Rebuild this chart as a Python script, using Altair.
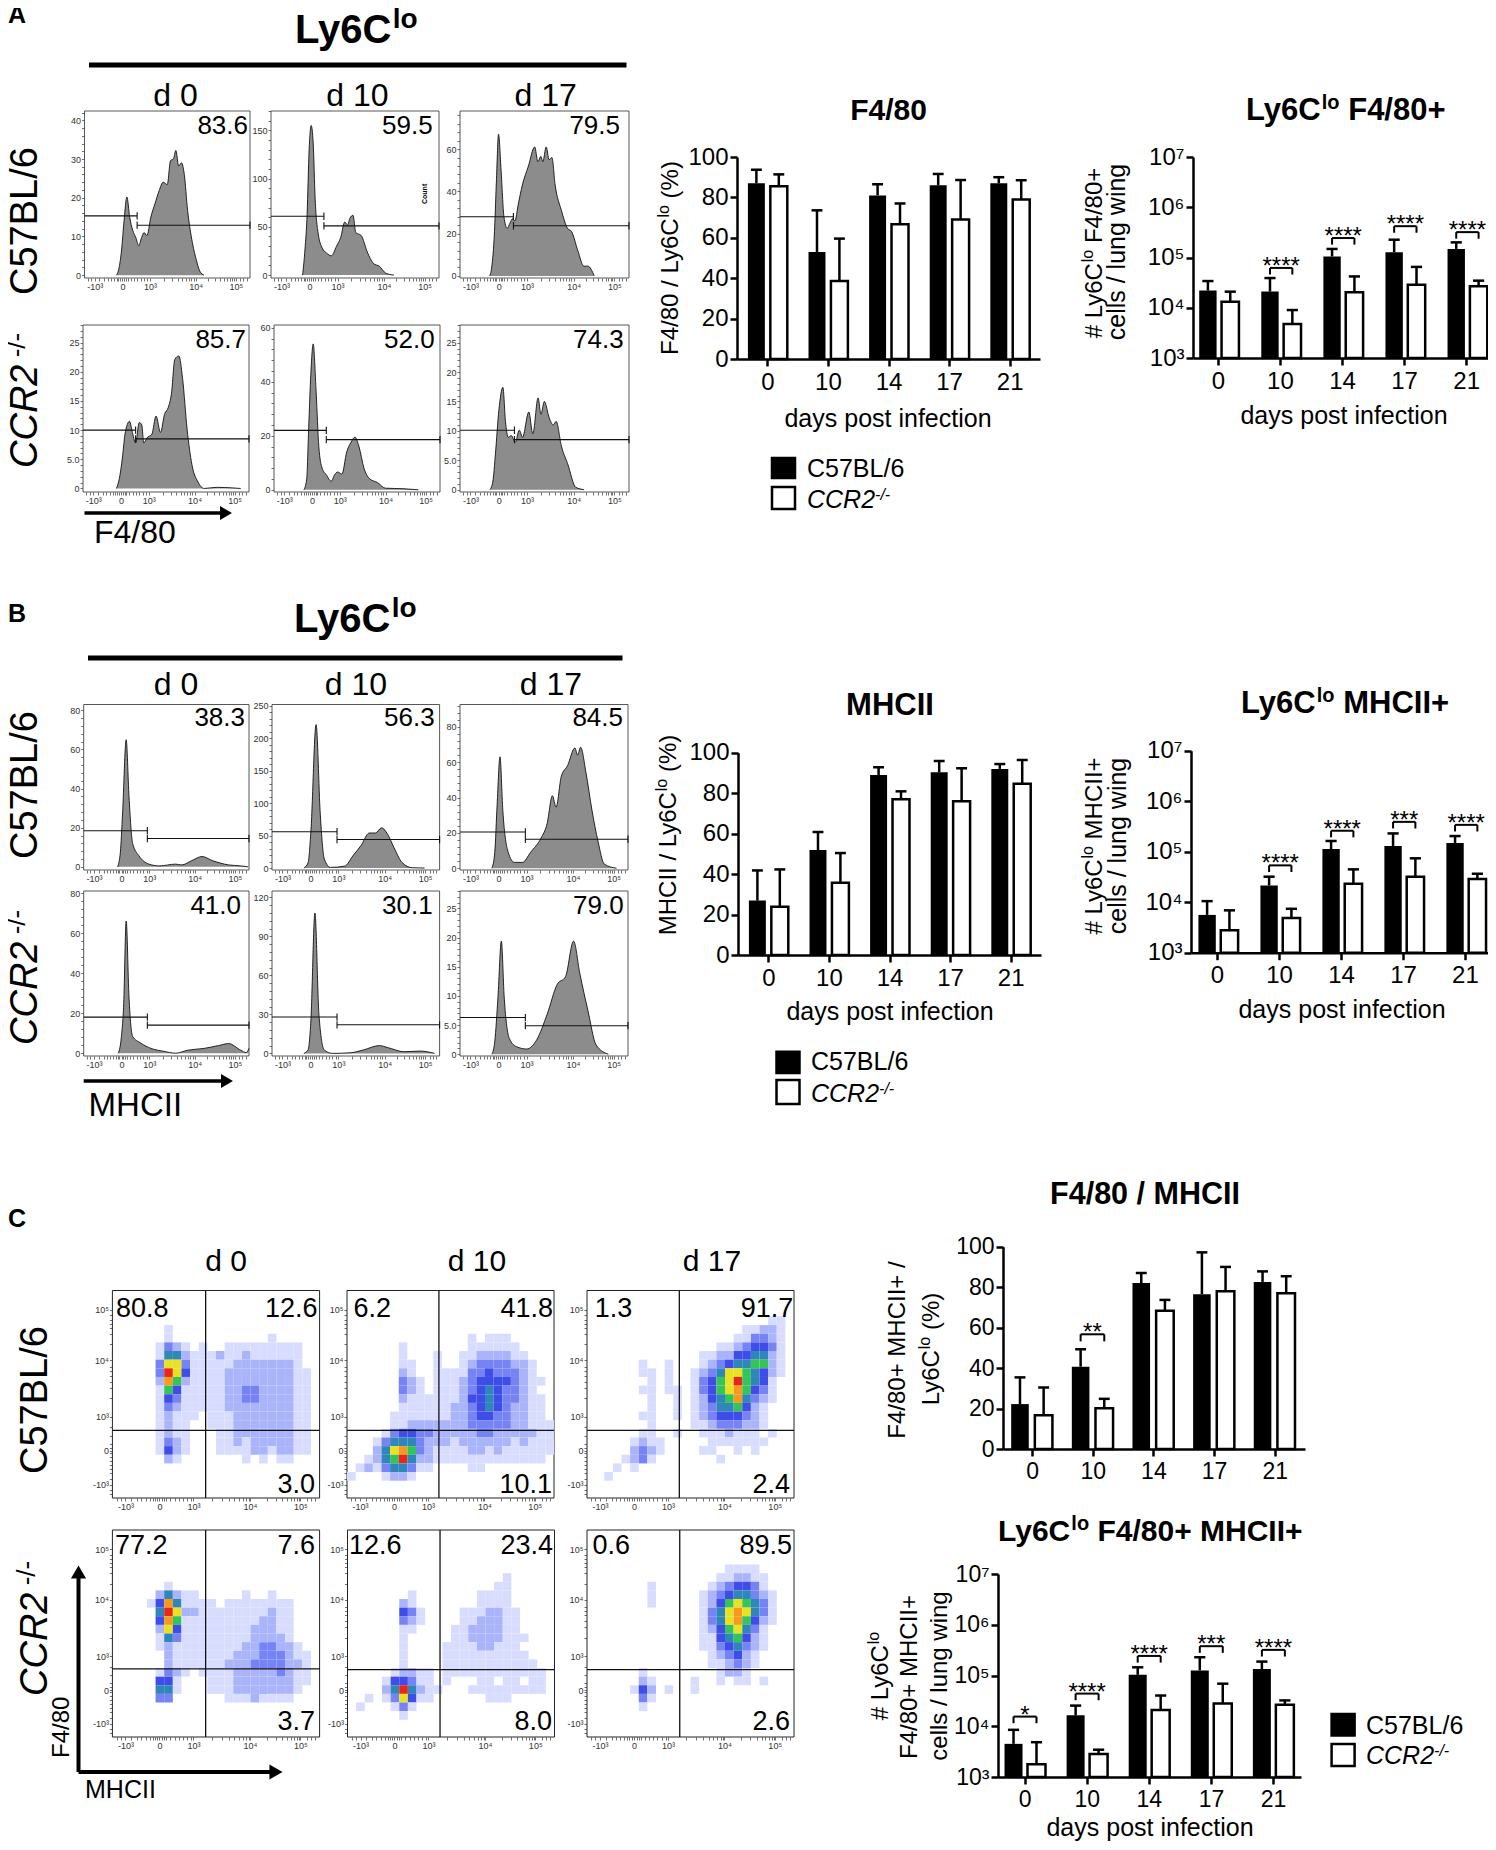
import altair as alt
import pandas as pd

WIDTH, HEIGHT = 1480, 1834
FONT = "Liberation Sans"

# ---------- bar chart values ----------
DAYS = ["0", "10", "14", "17", "21"]
A1_B = [87, 53, 81, 86, 87]
A1_BE = [93.7, 73.6, 86.5, 91.6, 90]
A1_W = [85.5, 38.6, 66.7, 69, 79]
A1_WE = [91.4, 59.6, 77, 88.6, 88.5]
A2_B = [2.2e4, 2.1e4, 1.05e5, 1.27e5, 1.48e5]
A2_BE = [3.4e4, 3.9e4, 1.48e5, 2.26e5, 2.0e5]
A2_W = [1.32e4, 4.75e3, 2.03e4, 2.88e4, 2.67e4]
A2_WE = [2.09e4, 9e3, 4.2e4, 6.5e4, 3.46e4]
A2_SIG = [(1, 6.2e4, "****"), (2, 2.44e5, "****"), (3, 4.2e5, "****"), (4, 3.2e5, "****")]
B1_B = [26.9, 51.9, 89, 90.3, 92]
B1_BE = [41.8, 60.8, 92.8, 95.9, 94.4]
B1_W = [23.9, 35.7, 77, 76, 84.7]
B1_WE = [42.3, 50.4, 80.9, 92.3, 96.4]
B2_B = [5.6e3, 2.15e4, 1.13e5, 1.3e5, 1.49e5]
B2_BE = [1.05e4, 3.2e4, 1.63e5, 2.3e5, 2.04e5]
B2_W = [2.77e3, 4.86e3, 2.32e4, 3.2e4, 2.88e4]
B2_WE = [6.9e3, 7.4e3, 4.47e4, 7.4e4, 3.66e4]
B2_SIG = [(1, 5.36e4, "****"), (2, 2.6e5, "****"), (3, 3.9e5, "***"), (4, 3.4e5, "****")]
C1_B = [22.2, 40.7, 82, 76.5, 82.6]
C1_BE = [35.4, 49.3, 87, 97.2, 87.8]
C1_W = [16.7, 20.2, 68.3, 78, 77]
C1_WE = [30.4, 24.8, 73.7, 90, 85.4]
C1_SIG = [(1, 56.7, "**")]
C2_B = [4.5e3, 1.64e4, 1.03e5, 1.26e5, 1.34e5]
C2_BE = [8.5e3, 2.55e4, 1.45e5, 2.29e5, 1.88e5]
C2_W = [1.78e3, 2.83e3, 2.08e4, 2.81e4, 2.65e4]
C2_WE = [4.85e3, 3.45e3, 4.03e4, 6.9e4, 3.23e4]
C2_SIG = [(0, 1.55e4, "*"), (1, 4.4e4, "****"), (2, 2.43e5, "****"), (3, 3.78e5, "***"), (4, 3.2e5, "****")]

# ---------- histogram curves: channel (0-100 of the display axis), count ----------
AH11_X = [19.2, 20.4, 22.4, 23.9, 25.6, 27.3, 29.1, 31, 32.8, 34.5, 36, 37.7, 40.1, 42.6, 45.1, 47.5, 50, 52, 53.7, 55.2, 56.9, 58.6, 60.3, 62.3, 64.8, 67.7, 69.7, 72.2]
AH11_Y = [0, 1, 6.5, 14, 20.2, 15, 11.6, 9.7, 7.6, 9.7, 11, 10.2, 15, 18.5, 21.8, 24, 23.4, 29.6, 30, 32.2, 28.2, 29, 26, 16.7, 9.3, 3.7, 1, 0]
AH12_X = [18.8, 20.2, 21.5, 22.7, 23.9, 25.1, 26.3, 28, 30.5, 33, 35.9, 39, 41.5, 43.9, 45.6, 47, 48.8, 50.5, 53.7, 57.3, 61, 64.6, 68.3, 73.2]
AH12_Y = [0, 26, 63, 130, 155, 137, 78, 44, 28, 23, 20, 30, 39, 55, 52, 59, 62, 44, 41, 24, 12, 9, 2, 0]
AH13_X = [17.5, 18.7, 20.4, 21.6, 22.8, 24.3, 26, 27.9, 29.6, 31, 32.5, 34.5, 36.9, 40.5, 44.2, 46.1, 47.8, 49, 51, 52.7, 54.4, 56.3, 60, 63.6, 66, 69.7, 73.3, 75.7, 79.4]
AH13_Y = [0, 3.7, 21, 46, 67, 50, 28, 22.5, 25, 27, 26, 34, 43, 52, 61, 54, 56.5, 54, 61, 55, 56, 43, 31, 22.5, 21, 12, 4.6, 4.6, 0]
AH21_X = [20.1, 21.9, 23.8, 25.3, 28, 30, 31.7, 33.9, 35.4, 36.6, 38.6, 41.5, 44, 46.7, 49.1, 51.4, 53.3, 55.3, 57.7, 60, 62.7, 65.6, 69.3, 73, 80.3, 90.2, 95]
AH21_Y = [0, 1.7, 5.4, 9.3, 11.5, 9.3, 7.8, 11.3, 10.9, 7.8, 8.7, 9.3, 12.4, 9.6, 12.7, 13.9, 16.3, 22.1, 22.7, 18.8, 10.2, 4.1, 1.1, 0, 0.2, 0.1, 0]
AH22_X = [18, 19.7, 20.9, 22.2, 23.6, 25.4, 27, 29, 31.5, 34.5, 36.5, 38.4, 40.9, 43.8, 46.3, 48.8, 51.2, 54.2, 57.4, 62.3, 67.2, 78.3, 87]
AH22_Y = [0, 4, 23, 43, 54, 36, 16, 8, 5.6, 3.2, 5.6, 6.6, 5.8, 14, 17.5, 19.5, 16, 8, 4.2, 2.7, 0.6, 0.4, 0]
AH23_X = [17.7, 19.4, 21, 23, 25.4, 26.9, 28.6, 30.3, 32.7, 35.1, 37, 40.7, 43.1, 46.2, 47.9, 49.9, 52.8, 55.2, 56.9, 60, 63.7, 68.5, 73.4]
AH23_Y = [0, 1.3, 6.2, 13.5, 17.4, 11.6, 8.9, 9.2, 8.1, 10.1, 8.9, 13.2, 9.5, 15.6, 12.8, 15, 12.2, 11, 11.6, 7.4, 4.4, 0.4, 0]
BH11_X = [20.5, 22.2, 23.5, 25.7, 27.4, 29.6, 33.3, 39.5, 45.7, 55.6, 59.3, 65.4, 71.6, 77.8, 87.7, 95, 99.5]
BH11_Y = [0, 7.6, 27, 65, 36, 12, 5.8, 1.4, 0.5, 1.4, 1, 3.2, 5.3, 3.2, 1, 0.5, 0]
BH12_X = [19, 21.5, 23.2, 26.3, 28.8, 31.2, 34.9, 43.4, 48.3, 53.2, 58, 61.7, 65.4, 69, 72.7, 77.6, 83.7, 91]
BH12_Y = [0, 8, 56, 221, 83, 14, 1, 3, 19, 35, 54, 54, 62, 52, 32, 8.5, 0.5, 0]
BH13_X = [19, 20.7, 22.1, 23.8, 25.5, 28.7, 32.4, 37.2, 42, 48.2, 51.8, 55, 57.2, 60.3, 64, 68.4, 70, 71.8, 75, 78.6, 82.2, 85.9, 93.2]
BH13_Y = [0, 9, 36, 63, 32.5, 9, 3.3, 3.3, 9, 17, 25, 41, 34.5, 52, 58, 68, 64, 68.4, 54, 32.5, 15, 2.3, 0]
BH21_X = [21, 22.7, 24.2, 25.7, 27.4, 29.6, 34.6, 40.7, 48.1, 55.6, 63, 72.8, 81.5, 87.7, 95, 98.3, 100]
BH21_Y = [0, 7.5, 24.7, 66, 28, 8.4, 5, 2.4, 1, 0, 1.5, 2.4, 3.8, 4.8, 1.5, 0.3, 2.4]
BH22_X = [19, 21.5, 23.2, 25.6, 28, 31.2, 36.1, 47, 54.4, 64.1, 69, 78.8, 88.5, 97]
BH22_Y = [0, 2.6, 25, 108, 30, 2.6, 0, 0.5, 2.6, 6, 4.5, 1.3, 1.8, 0]
BH23_X = [19, 20.7, 22.6, 24.6, 26.3, 29.4, 33.6, 39.7, 45.7, 51.8, 57.9, 62.8, 67.6, 71.3, 76.2, 81, 88.3]
BH23_Y = [0, 2.2, 9.8, 19.4, 9.8, 2.7, 1.3, 0.9, 2.5, 6.8, 12, 13.3, 19.4, 13.9, 7.4, 1.6, 0]

HIST_MAJOR = [6.2, 22.9, 39.6, 67.2, 91.4]
DOT_MAJOR = [6.3, 22.7, 39.1, 66.4, 90.7]
MAJOR_LABELS = ["-10³", "0", "10³", "10⁴", "10⁵"]
MINOR = [2, 4, 9, 12, 14, 16, 18, 19.5, 20.5, 21.5, 24, 25, 26, 28, 30, 32, 34, 36, 38, 47.9, 52.8, 56.2, 58.9, 61.1, 62.9,
         64.5, 65.9, 74.5, 78.9, 81.9, 84.3, 86.2, 87.8, 89.2, 90.2, 94, 96, 98]

# ---------- dot plot density cells, 24 x 24, top row first (0 = no events, 9 = densest) ----------
G11 = {4: "000000100000000000000000", 5: "000000100000000000100000", 6: "000001321010011111111100",
       7: "000001552111211211111100", 8: "000003773111112222222100", 9: "000003974111122222222110",
       10: "000002862111122222222110", 11: "000001641111122332222110", 12: "000001431111122332222110",
       13: "000001321111122222222110", 14: "000001211101112222222110", 15: "000001211001112222222110",
       16: "000001211000112222222110", 17: "000001321000112122222110", 18: "000001421000111122122110",
       19: "000000210000000101011000"}
G12 = {5: "000000000000001011100000", 6: "000000100000001111110000", 7: "000000100010011222211000",
       8: "000000110010012333322100", 9: "000000210011113343332100", 10: "000000321011123444432110",
       11: "000000321011123454332100", 12: "000000211111124454332110", 13: "000000111111223454322110",
       14: "000001111111223443322110", 15: "000001122222223333322111", 16: "000013443322222332222211",
       17: "000135553222122222212111", 18: "000257863211112212111111", 19: "001256952211111111111110",
       20: "012135531100001100000000", 21: "100012210000000000000000"}
G13 = {3: "000000000000000000000110", 4: "000000000000000000112210", 5: "000000000000000001133210",
       6: "000000000000000112344310", 7: "000000000000011224455210", 8: "000000100100012345566210",
       9: "000000110100123577654210", 10: "000000010100134679654100", 11: "000000110110134678643100",
       12: "000000010010124568532100", 13: "000000010010123556421000", 14: "000000110010123444321000",
       15: "000000010000112333221000", 16: "000000110010011121110100", 17: "000001211000001111111000",
       18: "000002321000011001010000", 19: "000012310000000100000000", 20: "000101000000000000000000",
       21: "001000000000000000000000"}
G21 = {6: "000000100000000000000000", 7: "000002521100000100100000", 8: "000014851111011111111000",
       9: "000005972211111111211000", 10: "000004861111111112211000", 11: "000002741111111122211000",
       12: "000001531111111122221000", 13: "000001211111111223322100", 14: "000000211111112223332110",
       15: "000000211111122233332210", 16: "000001321011112222232110", 17: "000004410001112222222110",
       18: "000005510001112222222100", 19: "000003300000011121111000"}
G22 = {5: "000000000000000000100000", 6: "000000000000000001100000", 7: "000000010000000111100000",
       8: "000000210000000111100000", 9: "000000431000011122110000", 10: "000000321000011222110000",
       11: "000000110000112222110000", 12: "000000100000112222111000", 13: "000000100001111221110000",
       14: "000000100001111111111000", 15: "000000100001111111111100", 16: "000001221101111111111110",
       17: "000014431101000110110110", 18: "000025952110001111111110", 19: "001013741100000011100000",
       20: "010001310000000000000000", 21: "000000100000000000000000"}
G23 = {4: "000000000000000011110000", 5: "000000000000000112211000", 6: "000000010000001234431000",
       7: "000000010000012345532100", 8: "000000010000012467653100", 9: "000000000000013578753100",
       10: "000000000000013578642100", 11: "000000000000012467531000", 12: "000000000000011456421000",
       13: "000000000000011345321000", 14: "000000000000001234210000", 15: "000000000000001123210000",
       16: "000000100000000122100000", 17: "000000210000100101101000", 18: "000001420100100000000000",
       19: "000000310000000000000000", 20: "000000100000000000000000"}
DENSITY_COLORS = {"1": "#d8ddff", "2": "#aab4fb", "3": "#7683f5", "4": "#3f4de8", "5": "#2f86b8",
                  "6": "#35c45a", "7": "#e8e222", "8": "#f59a1e", "9": "#e8261a"}

# ---------- text helper ----------
REG = dict(zip("ABCFHILMR/ +-()%#acdefgilnopstuwy.",
               [.667, .667, .722, .611, .722, .278, .556, .833, .722, .278, .278, .584, .333, .333, .333, .889, .556,
                .556, .5, .556, .556, .278, .556, .222, .222, .556, .556, .556, .5, .278, .556, .722, .5, .278]))
BOLD = dict(REG, L=.611, l=.278, o=.611, y=.556)


def tw(s, size, bold=False):
    t = BOLD if bold else REG
    return sum(t.get(c, .556) for c in s) * size


TEXTS = []


def T(x, y, text, size, bold=False, italic=False, angle=0, align="left"):
    TEXTS.append(dict(px=x - 8, py=y - 8, text=text, size=size, bold=bold, italic=italic, angle=angle, align=align))


def rich(x, y, segs, angle=0, center=False, bold=False):
    """segs: (text, size, rise[, italic])"""
    total = sum(tw(s[0], s[1], bold) for s in segs)
    pos = -total / 2 if center else 0
    for s in segs:
        text, size, rise = s[:3]
        it = len(s) > 3 and s[3]
        lead = len(text) - len(text.lstrip())
        if angle == 270:
            T(x - rise, y - pos - tw(text[:lead], size, bold), text.strip(), size, bold, it, 270)
        else:
            T(x + pos + tw(text[:lead], size, bold), y - rise, text.strip(), size, bold, it)
        pos += tw(text, size, bold)


# ---------- drawing helpers ----------
PX = alt.X("px:Q", scale=None, axis=None)
PY = alt.Y("py:Q", scale=None, axis=None)


def bar_row(i, v, e, off, bw):
    return dict(x0=i + off - bw / 2, x1=i + off + bw / 2, xc=i + off, v=v, e=e)


def bar_panel(black, black_err, white, white_err, xr, dom, yr, log=False, sig=(), off=(-.18, .19), bw=.28, fs=24, cap=.09):
    xs = alt.Scale(domain=list(dom), range=[xr[0] - 8, xr[1] - 8], nice=False, zero=False)
    if log:
        ys = alt.Scale(type="log", domain=[1e3, 1e7], range=[yr[0] - 8, yr[1] - 8], nice=False)
        base = 1e3
        ylabel = "'10'+['³','⁴','⁵','⁶','⁷'][round(log(datum.value)/LN10)-3]"
        yvals = [1e3, 1e4, 1e5, 1e6, 1e7]
    else:
        ys = alt.Scale(domain=[0, 100], range=[yr[0] - 8, yr[1] - 8], nice=False, zero=False)
        base = 0
        ylabel = "datum.label"
        yvals = [0, 20, 40, 60, 80, 100]
    common = dict(grid=False, title=None, domainColor="black", tickColor="black", domainWidth=2.5, tickWidth=2.5,
                  tickSize=7, labelColor="black", labelFont=FONT, labelFontSize=fs, labelOverlap=False,
                  labelBound=False, labelFlush=False)
    xax = alt.Axis(orient="bottom", offset=yr[0] - 8 - HEIGHT, values=[0, 1, 2, 3, 4], labelPadding=4,
                   labelExpr="['0','10','14','17','21'][datum.value]", **common)
    yax = alt.Axis(orient="left", offset=-(xr[0] - 8), values=yvals, labelPadding=2, labelExpr=ylabel, **common)
    b = pd.DataFrame([bar_row(i, black[i], black_err[i], off[0], bw) for i in range(5)])
    w = pd.DataFrame([bar_row(i, white[i], white_err[i], off[1], bw) for i in range(5)])
    b["base"] = base
    w["base"] = base
    X0 = alt.X("x0:Q", scale=xs, axis=None)
    Xc = alt.X("xc:Q", scale=xs, axis=None)
    layers = []
    all_rows = pd.concat([b, w])
    layers.append(alt.Chart(b).mark_rect(color="black").encode(
        x=alt.X("x0:Q", scale=xs, axis=xax), x2="x1:Q",
        y=alt.Y("v:Q", scale=ys, axis=yax), y2="base:Q"))
    layers.append(alt.Chart(all_rows).mark_rule(color="black", strokeWidth=2.5).encode(
        x=Xc, y=alt.Y("v:Q", scale=ys, axis=None), y2="e:Q"))
    caps = all_rows.assign(c0=all_rows.xc - cap, c1=all_rows.xc + cap)
    layers.append(alt.Chart(caps).mark_rule(color="black", strokeWidth=2.5).encode(
        x=alt.X("c0:Q", scale=xs, axis=None), x2="c1:Q", y=alt.Y("e:Q", scale=ys, axis=None)))
    layers.append(alt.Chart(w).mark_rect(fill="white", stroke="black", strokeWidth=2.5).encode(
        x=X0, x2="x1:Q", y=alt.Y("v:Q", scale=ys, axis=None), y2="base:Q"))
    if sig:
        rows = []
        for i, val, stars in sig:
            low = val * .74 if log else val - 3.5
            rows.append(dict(xa=i + off[0], xb=i + off[1], xm=i + (off[0] + off[1]) / 2, val=val, low=low, stars=stars))
        s = pd.DataFrame(rows)
        layers.append(alt.Chart(s).mark_rule(color="black", strokeWidth=2).encode(
            x=alt.X("xa:Q", scale=xs, axis=None), x2="xb:Q", y=alt.Y("val:Q", scale=ys, axis=None)))
        layers.append(alt.Chart(s).mark_rule(color="black", strokeWidth=2).encode(
            x=alt.X("xa:Q", scale=xs, axis=None), y=alt.Y("val:Q", scale=ys, axis=None), y2="low:Q"))
        layers.append(alt.Chart(s).mark_rule(color="black", strokeWidth=2).encode(
            x=alt.X("xb:Q", scale=xs, axis=None), y=alt.Y("val:Q", scale=ys, axis=None), y2="low:Q"))
        layers.append(alt.Chart(s).mark_text(font=FONT, fontSize=24, color="black", baseline="alphabetic", dy=6).encode(
            x=alt.X("xm:Q", scale=xs, axis=None), y=alt.Y("val:Q", scale=ys, axis=None), text="stars:N"))
    return layers


def flow_axes(xr, yr, majors, yvals, ylabel):
    common = dict(grid=False, title=None, domain=False, tickColor="#333", tickWidth=.7, tickSize=3, labelColor="#333",
                  labelFont=FONT, labelFontSize=9, labelOverlap=False, labelBound=False, labelFlush=False, labelPadding=1)
    expr = "".join(f"datum.value=={m}?'{l}':" for m, l in zip(majors, MAJOR_LABELS)) + "''"
    xax = alt.Axis(orient="bottom", offset=yr[0] - 8 - HEIGHT, values=sorted(majors + MINOR), labelExpr=expr, **common)
    yax = alt.Axis(orient="left", offset=-(xr[0] - 8), values=yvals, labelExpr=ylabel, **common)
    return xax, yax


def hist_panel(xs_, ys_, xr, yr, ydom, step, minor, gate):
    xs = alt.Scale(domain=[0, 100], range=[xr[0] - 8, xr[1] - 8], nice=False, zero=False)
    ys = alt.Scale(domain=list(ydom), range=[yr[0] - 8, yr[1] - 8], nice=False, zero=False)
    vals = list(range(0, int(ydom[1]) + 1, minor))
    lab = f"datum.value%{step}==0?(datum.value==5?'5.0':datum.label):''"
    xax, yax = flow_axes(xr, yr, HIST_MAJOR, vals, lab)
    d = pd.DataFrame(dict(c=xs_, n=ys_, base=[0] * len(xs_)))
    frame = pd.DataFrame([dict(a=0, b=100, lo=ydom[0], hi=ydom[1])])
    g, ly, ry = gate
    dy = (ydom[1] - ydom[0]) * .022
    seg = pd.DataFrame([dict(a=0, b=g, y=ly), dict(a=g, b=100, y=ry)])
    capd = pd.DataFrame([dict(a=g, y0=ly - dy, y1=ly + dy), dict(a=g, y0=ry - dy, y1=ry + dy),
                         dict(a=100, y0=ry - dy, y1=ry + dy)])
    Xn = alt.X("c:Q", scale=xs, axis=None)
    return [
        alt.Chart(frame).mark_rect(fill="white", stroke="#444", strokeWidth=.9).encode(
            x=alt.X("a:Q", scale=xs, axis=xax), x2="b:Q", y=alt.Y("lo:Q", scale=ys, axis=yax), y2="hi:Q"),
        alt.Chart(d).mark_area(color="#8c8c8c", interpolate="monotone").encode(
            x=Xn, y=alt.Y("n:Q", scale=ys, axis=None), y2="base:Q"),
        alt.Chart(d).mark_line(color="#111", strokeWidth=.9, interpolate="monotone").encode(
            x=Xn, y=alt.Y("n:Q", scale=ys, axis=None)),
        alt.Chart(seg).mark_rule(color="#111", strokeWidth=1.1).encode(
            x=alt.X("a:Q", scale=xs, axis=None), x2="b:Q", y=alt.Y("y:Q", scale=ys, axis=None)),
        alt.Chart(capd).mark_rule(color="#111", strokeWidth=1.1).encode(
            x=alt.X("a:Q", scale=xs, axis=None), y=alt.Y("y0:Q", scale=ys, axis=None), y2="y1:Q"),
    ]


def dot_panel(grid, xr, yr, qx, qy):
    xs = alt.Scale(domain=[0, 100], range=[xr[0] - 8, xr[1] - 8], nice=False, zero=False)
    ys = alt.Scale(domain=[0, 100], range=[yr[0] - 8, yr[1] - 8], nice=False, zero=False)
    step = 100 / 24
    rows = []
    for r, s in grid.items():
        for c, ch in enumerate(s):
            if ch != "0":
                rows.append(dict(x0=c * step, x1=(c + 1) * step, y0=100 - (r + 1) * step, y1=100 - r * step,
                                 col=DENSITY_COLORS[ch]))
    cells = pd.DataFrame(rows)
    lab = "".join(f"datum.value=={m}?'{l}':" for m, l in zip(DOT_MAJOR, MAJOR_LABELS)) + "''"
    xax, yax = flow_axes(xr, yr, DOT_MAJOR, sorted(DOT_MAJOR + [2, 4, 9, 12, 14, 16, 18, 20, 21.5, 24, 26, 30, 34, 48, 53, 56, 59, 61, 63, 74, 79, 82, 84, 86, 88]), lab)
    frame = pd.DataFrame([dict(a=0, b=100, lo=0, hi=100)])
    return [
        alt.Chart(frame).mark_rect(fill="white", stroke="#222", strokeWidth=1).encode(
            x=alt.X("a:Q", scale=xs, axis=xax), x2="b:Q", y=alt.Y("lo:Q", scale=ys, axis=yax), y2="hi:Q"),
        alt.Chart(cells).mark_rect(strokeWidth=0).encode(
            x=alt.X("x0:Q", scale=xs, axis=None), x2="x1:Q", y=alt.Y("y0:Q", scale=ys, axis=None), y2="y1:Q",
            color=alt.Color("col:N", scale=None, legend=None)),
        alt.Chart(pd.DataFrame([dict(a=qx, b=0, c=100)])).mark_rule(color="#111", strokeWidth=1.3).encode(
            x=alt.X("a:Q", scale=xs, axis=None), y=alt.Y("b:Q", scale=ys, axis=None), y2="c:Q"),
        alt.Chart(pd.DataFrame([dict(a=qy, b=0, c=100)])).mark_rule(color="#111", strokeWidth=1.3).encode(
            y=alt.Y("a:Q", scale=ys, axis=None), x=alt.X("b:Q", scale=xs, axis=None), x2="c:Q"),
    ]


SHAPES = []


def line(x0, y0, x1, y1, w):
    SHAPES.append(alt.Chart(pd.DataFrame([dict(px=x0 - 8, px2=x1 - 8, py=y0 - 8, py2=y1 - 8)]))
                  .mark_rule(color="black", strokeWidth=w)
                  .encode(x=PX, x2="px2:Q", y=PY, y2="py2:Q"))


def box(x0, y0, x1, y1, fill):
    SHAPES.append(alt.Chart(pd.DataFrame([dict(px=x0 - 8, px2=x1 - 8, py=y0 - 8, py2=y1 - 8)]))
                  .mark_rect(fill=fill, stroke="black", strokeWidth=2.5)
                  .encode(x=PX, x2="px2:Q", y=PY, y2="py2:Q"))


def head(x, y, shape, size=190):
    SHAPES.append(alt.Chart(pd.DataFrame([dict(px=x - 8, py=y - 8)]))
                  .mark_point(shape=shape, filled=True, color="black", size=size, opacity=1)
                  .encode(x=PX, y=PY))


panels = []

# ---------- A histograms ----------
R1, R2 = (278, 111), (492, 325)
panels += hist_panel(AH11_X, AH11_Y, (84.5, 250), R1, (-.74, 42.4), 10, 2, (31.8, 15.3, 12.9))
panels += hist_panel(AH12_X, AH12_Y, (271, 439), R1, (-3, 170), 50, 10, (31.5, 61, 51))
panels += hist_panel(AH13_X, AH13_Y, (460, 629), R1, (-1, 78), 20, 4, (31.6, 28, 23.7))
panels += hist_panel(AH21_X, AH21_Y, (83, 249), R2, (-.6, 28), 5, 1, (31.7, 10, 8.5))
panels += hist_panel(AH22_X, AH22_Y, (274, 440), R2, (-.8, 61), 20, 4, (31.5, 22, 18.6))
panels += hist_panel(AH23_X, AH23_Y, (460, 629), R2, (-.4, 28), 5, 1, (32.2, 10.1, 8.5))
# ---------- B histograms ----------
R3, R4 = (870, 704.5), (1056, 891)
panels += hist_panel(BH11_X, BH11_Y, (83.7, 249), R3, (-1.6, 83), 20, 4, (38.5, 18.5, 14.5))
panels += hist_panel(BH12_X, BH12_Y, (272, 439.6), R3, (-3, 252), 50, 10, (38.8, 56, 44))
panels += hist_panel(BH13_X, BH13_Y, (460, 628), R3, (-1, 92.6), 20, 4, (38.9, 20.5, 16.4))
panels += hist_panel(BH21_X, BH21_Y, (83.7, 249), R4, (-1.4, 81), 20, 4, (38.5, 18, 14))
panels += hist_panel(BH22_X, BH22_Y, (272, 439.6), R4, (-2, 125), 30, 6, (38.8, 28, 22))
panels += hist_panel(BH23_X, BH23_Y, (460, 628), R4, (-.3, 28), 5, 1, (38.9, 6.3, 4.9))
# ---------- C dot plots ----------
R5, R6 = (1498, 1290.5), (1737, 1530)
panels += dot_panel(G11, (112.4, 319.6), R5, 45, 32.6)
panels += dot_panel(G12, (347, 554), R5, 44.4, 32.6)
panels += dot_panel(G13, (587, 794), R5, 44.6, 32.6)
panels += dot_panel(G21, (112.4, 319.6), R6, 45, 32.9)
panels += dot_panel(G22, (347.5, 554.5), R6, 44.7, 32.5)
panels += dot_panel(G23, (587, 794), R6, 44.8, 32.5)
# ---------- bar panels ----------
panels += bar_panel(A1_B, A1_BE, A1_W, A1_WE, (737, 1040), (-.5, 4.5), (359, 157))
panels += bar_panel(A2_B, A2_BE, A2_W, A2_WE, (1193, 1491), (-.4, 4.4), (358, 157), log=True, sig=A2_SIG, off=(-.16, .2))
panels += bar_panel(B1_B, B1_BE, B1_W, B1_WE, (738, 1041), (-.5, 4.5), (955, 752.7))
panels += bar_panel(B2_B, B2_BE, B2_W, B2_WE, (1191, 1491), (-.42, 4.42), (952.7, 750.7), log=True, sig=B2_SIG, off=(-.16, .2))
panels += bar_panel(C1_B, C1_BE, C1_W, C1_WE, (1003, 1305), (-.48, 4.5), (1449, 1246.7), sig=C1_SIG, off=(-.2, .19), bw=.29, fs=23)
panels += bar_panel(C2_B, C2_BE, C2_W, C2_WE, (998, 1301), (-.43, 4.45), (1777, 1574), log=True, sig=C2_SIG, off=(-.18, .19), bw=.29, fs=23)

# ---------- annotations ----------
for letter, x, y in [("A", 8, 23), ("B", 8, 622), ("C", 8, 1227)]:
    T(x, y, letter, 25, bold=True)

for base, lx0, lx1, ly, dx in [(43, 89, 626.5, 65, 295), (632, 88, 622.5, 658, 294)]:
    rich(dx, base, [("Ly6C", 40, 0), ("lo", 28, 15)], bold=True)
    line(lx0, ly, lx1, ly, 5)

for s, x, y in [("d 0", 175.5, 105.7), ("d 10", 357.5, 105.7), ("d 17", 545.7, 105.7),
                ("d 0", 176, 695), ("d 10", 356, 695), ("d 17", 551, 695)]:
    T(x, y, s, 32, align="center")
for s, x, y in [("d 0", 226, 1271), ("d 10", 477, 1271), ("d 17", 712, 1271)]:
    T(x, y, s, 30, align="center")

for s, x, y in [("83.6", 248, 134), ("59.5", 432.6, 134), ("79.5", 620, 134),
                ("85.7", 246, 348), ("52.0", 434.7, 348), ("74.3", 623.7, 348),
                ("38.3", 245, 726), ("56.3", 434.7, 726), ("84.5", 623, 726),
                ("41.0", 241, 914), ("30.1", 432.6, 914), ("79.0", 623.7, 914)]:
    T(x, y, s, 26, align="right")

for s, x, y, a in [("80.8", 116, 1317, "left"), ("12.6", 317.5, 1317, "right"), ("6.2", 353.5, 1317, "left"),
                   ("41.8", 553, 1317, "right"), ("1.3", 594.7, 1317, "left"), ("91.7", 793.4, 1317, "right"),
                   ("3.0", 315, 1492.5, "right"), ("10.1", 552, 1492.5, "right"), ("2.4", 790, 1492.5, "right"),
                   ("77.2", 115, 1553.5, "left"), ("7.6", 315, 1553.5, "right"), ("12.6", 349, 1553.5, "left"),
                   ("23.4", 553, 1553.5, "right"), ("0.6", 592.6, 1553.5, "left"), ("89.5", 792, 1553.5, "right"),
                   ("3.7", 315, 1730, "right"), ("8.0", 552, 1730, "right"), ("2.6", 790, 1730, "right")]:
    T(x, y, s, 27, align=a)

T(37, 295, "C57BL/6", 38, angle=270)
T(37, 859, "C57BL/6", 38, angle=270)
T(47, 1474, "C57BL/6", 38, angle=270)
for x, y in [(37, 468), (37, 1045), (47, 1696)]:
    rich(x, y, [("CCR2", 38, 0, True), (" -/-", 26, 12)], angle=270)

T(426.5, 204, "Count", 7, bold=True, angle=270)

T(94, 543, "F4/80", 32)
line(84.5, 513, 225, 513, 3.5)
head(226, 513, "triangle-right")
T(88.6, 1116, "MHCII", 33)
line(83.7, 1081, 226, 1081, 3.5)
head(227, 1081, "triangle-right")
line(78.5, 1772, 78.5, 1575, 4)
head(78.5, 1572, "triangle-up", 230)
line(78.5, 1772, 275, 1772, 4)
head(276, 1772, "triangle-right", 230)
T(69, 1758, "F4/80", 24, angle=270)
T(85, 1797.5, "MHCII", 25)

T(888.6, 120, "F4/80", 30, bold=True, align="center")
rich(1246, 120, [("Ly6C", 31, 0), ("lo", 20, 11), (" F4/80+", 31, 0)], bold=True)
T(890, 715, "MHCII", 31, bold=True, align="center")
rich(1241, 713, [("Ly6C", 31, 0), ("lo", 20, 11), (" MHCII+", 31, 0)], bold=True)
T(1145, 1204, "F4/80 / MHCII", 30.5, bold=True, align="center")
rich(998, 1540.7, [("Ly6C", 30, 0), ("lo", 20, 11), (" F4/80+ MHCII+", 30, 0)], bold=True)

for x, y in [(888, 427), (1344, 424), (890, 1020), (1342, 1018), (1150, 1836)]:
    T(x, y, "days post infection", 25, align="center")

rich(678, 258, [("F4/80 / Ly6C", 24, 0), ("lo", 16, 9), (" (%)", 24, 0)], angle=270, center=True)
rich(675.5, 835, [("MHCII / Ly6C", 24, 0), ("lo", 16, 9), (" (%)", 24, 0)], angle=270, center=True)
rich(1101.8, 253, [("# Ly6C", 24, 0), ("lo", 16, 9), (" F4/80+", 24, 0)], angle=270, center=True)
T(1125, 252, "cells / lung wing", 25, angle=270, align="center")
rich(1101.7, 846, [("# Ly6C", 24, 0), ("lo", 16, 9), (" MHCII+", 24, 0)], angle=270, center=True)
T(1126, 846, "cells / lung wing", 25, angle=270, align="center")
T(904.6, 1350, "F4/80+ MHCII+ /", 24, angle=270, align="center")
rich(939, 1349, [("Ly6C", 24, 0), ("lo", 16, 9), (" (%)", 24, 0)], angle=270, center=True)
rich(888, 1676, [("# Ly6C", 24, 0), ("lo", 16, 9)], angle=270, center=True)
T(917, 1677, "F4/80+ MHCII+", 24, angle=270, align="center")
T(947, 1676, "cells / lung wing", 24, angle=270, align="center")

for bx, by, wy, wy1, by1, tx, t1, t2 in [
    (771, 457, 486, 510, 479, 807, 476.6, 507.7),
    (775.5, 1050.7, 1079, 1105, 1074, 811, 1070, 1101.7),
    (1330.6, 1713, 1743, 1767, 1736.6, 1366, 1733.5, 1764),
]:
    box(bx + 1, by + 1, bx + 24, by1 - 1, "black")
    box(bx + 1, wy + 1, bx + 24, wy1 - 1, "white")
    T(tx, t1, "C57BL/6", 25)
    rich(tx, t2, [("CCR2", 25, 0, True), ("-/-", 16, 8, True)])

tdf = pd.DataFrame(TEXTS)
text_layers = []
for (bold, italic, angle, align), g in tdf.groupby(["bold", "italic", "angle", "align"]):
    kw = dict(font=FONT, baseline="alphabetic", align=align, color="black")
    if bold:
        kw["fontWeight"] = "bold"
    if italic:
        kw["fontStyle"] = "italic"
    if angle:
        kw["angle"] = int(angle)
    text_layers.append(alt.Chart(g.drop(columns=["bold", "italic", "angle", "align"])).mark_text(**kw).encode(
        x=PX, y=PY, text="text:N", size=alt.Size("size:Q", scale=None, legend=None)))

chart = (
    alt.layer(*panels, *SHAPES, *text_layers)
    .resolve_scale(x="independent", y="independent")
    .properties(width=WIDTH, height=HEIGHT, padding=0, background="white",
                autosize=alt.AutoSizeParams(type="none", contains="content"))
    .configure_view(stroke=None)
)

chart.save("out.html", embed_options={"renderer": "svg", "actions": False})
